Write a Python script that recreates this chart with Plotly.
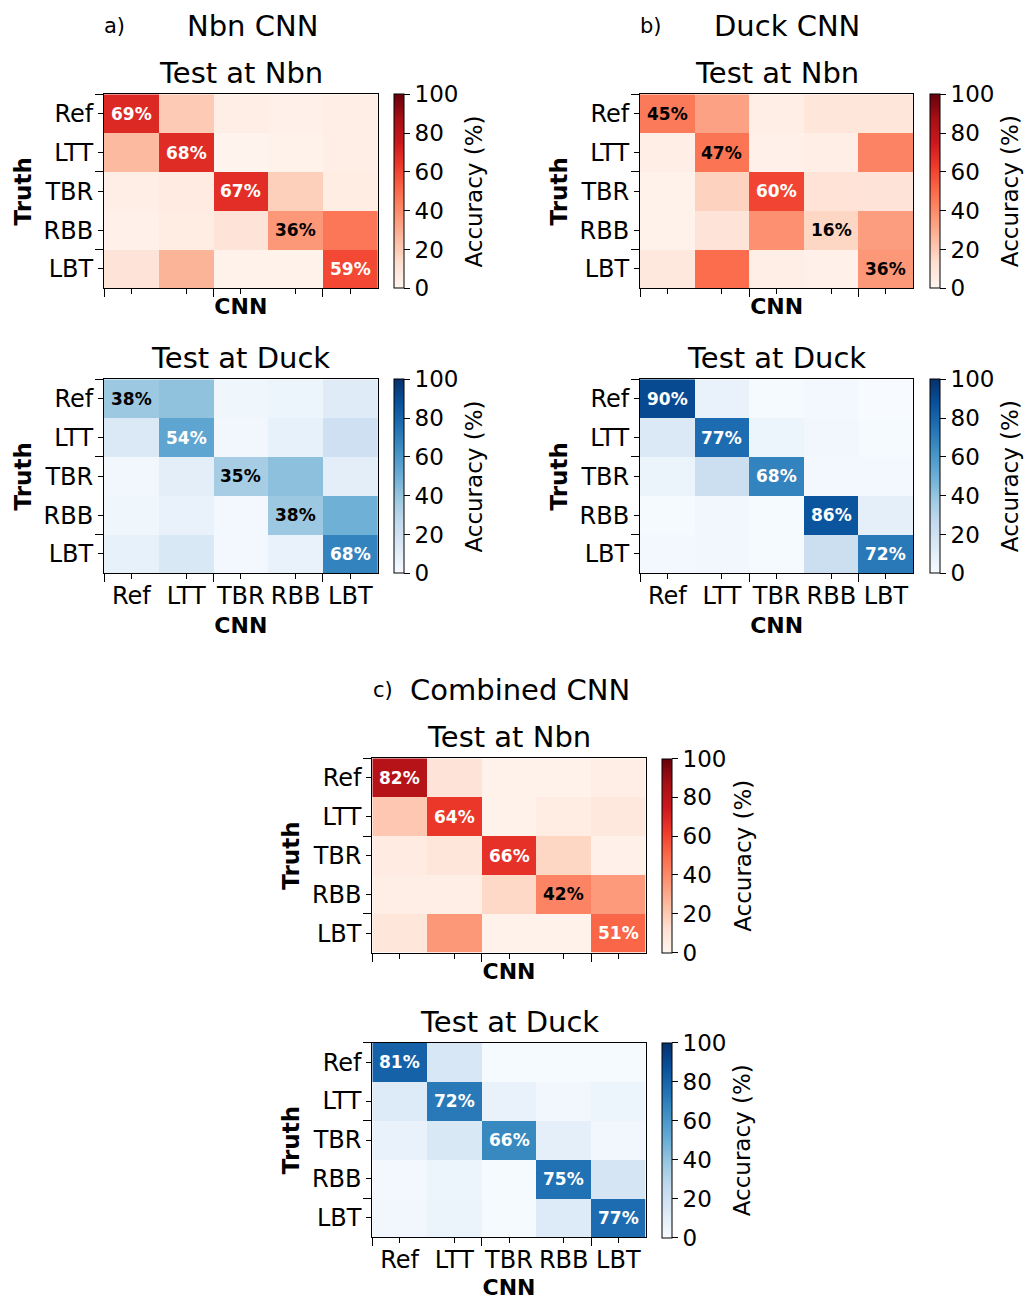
import plotly.graph_objects as go

# ---------------- data ----------------
categories = ["Ref", "LTT", "TBR", "RBB", "LBT"]

# rows = Truth, columns = CNN prediction (accuracy %)
nbn_cnn_test_nbn = [[69, 20, 4, 3, 4],
                    [25, 68, 1, 2, 4],
                    [4, 6, 67, 18, 5],
                    [3, 5, 10, 36, 46],
                    [10, 27, 2, 2, 59]]
nbn_cnn_test_duck = [[38, 41, 4, 5, 12],
                     [14, 54, 3, 8, 21],
                     [3, 10, 35, 42, 10],
                     [4, 7, 2, 38, 49],
                     [8, 15, 2, 7, 68]]
duck_cnn_test_nbn = [[45, 33, 4, 9, 9],
                     [4, 47, 3, 4, 42],
                     [2, 17, 60, 11, 10],
                     [2, 10, 38, 16, 34],
                     [8, 49, 4, 3, 36]]
duck_cnn_test_duck = [[90, 7, 1, 2, 0],
                      [14, 77, 5, 3, 1],
                      [6, 22, 68, 2, 2],
                      [1, 3, 1, 86, 9],
                      [2, 3, 1, 22, 72]]
combined_cnn_test_nbn = [[82, 10, 2, 2, 4],
                         [21, 64, 2, 5, 8],
                         [6, 9, 66, 16, 3],
                         [4, 4, 15, 42, 35],
                         [9, 36, 2, 2, 51]]
combined_cnn_test_duck = [[81, 16, 1, 1, 1],
                          [13, 72, 7, 3, 5],
                          [7, 15, 66, 9, 3],
                          [2, 5, 1, 75, 17],
                          [3, 6, 1, 13, 77]]

colorbar_ticks = [0, 20, 40, 60, 80, 100]

reds = ["#fff5f0", "#fee0d2", "#fcbba1", "#fc9272", "#fb6a4a",
        "#ef3b2c", "#cb181d", "#a50f15", "#67000d"]
blues = ["#f7fbff", "#deebf7", "#c6dbef", "#9ecae1", "#6baed6",
         "#4292c6", "#2171b5", "#08519c", "#08306b"]

# ---------------- layout helpers ----------------
W, H = 1027, 1300
FONT = "DejaVu Sans"


def fx(p):
    return p / W


def fy(p):
    return 1 - p / H


def scale(cols):
    n = len(cols) - 1
    return [[i / n, c] for i, c in enumerate(cols)]


panels = [
    # matrix, colours, x pixel span, y pixel span, show x tick labels, subtitle
    (nbn_cnn_test_nbn, reds, (104, 377.7), (94.3, 288.3), False, "Test at Nbn"),
    (nbn_cnn_test_duck, blues, (104, 377.7), (379.3, 573.3), True, "Test at Duck"),
    (duck_cnn_test_nbn, reds, (640, 913.3), (94.3, 288.3), False, "Test at Nbn"),
    (duck_cnn_test_duck, blues, (640, 913.3), (379.3, 573.3), True, "Test at Duck"),
    (combined_cnn_test_nbn, reds, (372.3, 645.7), (758.3, 952.7), False, "Test at Nbn"),
    (combined_cnn_test_duck, blues, (372.3, 645.7), (1042.7, 1237.3), True, "Test at Duck"),
]

fig = go.Figure()
layout = {}
annotations = []
idx = list(range(len(categories)))
minor_vals = [-0.5, 1.5, 3.5]

for i, (z, cols, (x0, x1), (y0, y1), show_lbl, sub) in enumerate(panels, start=1):
    sfx = "" if i == 1 else str(i)
    cb_left = x1 + 16.6
    fig.add_trace(go.Heatmap(
        z=z, x=idx, y=idx, colorscale=scale(cols), zmin=0, zmax=100,
        xaxis="x" + sfx, yaxis="y" + sfx,
        hovertemplate="Truth %{y}, CNN %{x}: %{z}%<extra></extra>",
        colorbar=dict(
            x=fx(cb_left), xanchor="left", xpad=0,
            y=(fy(y0) + fy(y1)) / 2, yanchor="middle", ypad=0,
            len=(y1 - y0) / H, lenmode="fraction", thickness=10,
            outlinecolor="black", outlinewidth=1,
            tickvals=colorbar_ticks, ticks="outside", ticklen=6,
            tickcolor="black", tickfont=dict(size=23, color="black", family=FONT),
        ),
    ))
    # colour bar label
    annotations.append(dict(
        text="Accuracy (%)", xref="paper", yref="paper", x=fx(cb_left + 80),
        y=(fy(y0) + fy(y1)) / 2, xanchor="center", yanchor="middle",
        textangle=-90, showarrow=False,
        font=dict(size=23, color="black", family=FONT)))
    layout["xaxis" + sfx] = dict(
        domain=[fx(x0), fx(x1)], anchor="y" + sfx, range=[-0.5, 4.5],
        tickmode="array", tickvals=idx, ticktext=categories,
        showticklabels=show_lbl, ticks="outside", ticklen=5, tickcolor="black",
        ticklabelstandoff=-4,
        minor=dict(tickmode="array", tickvals=minor_vals, ticks="outside",
                   ticklen=8, tickcolor="black", showgrid=False),
        showline=True, mirror=True, linecolor="black", linewidth=1,
        showgrid=False, zeroline=False,
        tickfont=dict(size=24, color="black", family=FONT),
        title=dict(text="<b>CNN</b>", font=dict(size=22, color="black", family=FONT),
                   standoff=8 if show_lbl else 5),
    )
    layout["yaxis" + sfx] = dict(
        domain=[fy(y1), fy(y0)], anchor="x" + sfx, range=[4.5, -0.5],
        tickmode="array", tickvals=idx, ticktext=categories,
        ticks="outside", ticklen=5, tickcolor="black",
        minor=dict(tickmode="array", tickvals=minor_vals, ticks="outside",
                   ticklen=8, tickcolor="black", showgrid=False),
        showline=True, mirror=True, linecolor="black", linewidth=1,
        showgrid=False, zeroline=False,
        tickfont=dict(size=24, color="black", family=FONT),
        title=dict(text="<b>Truth</b>", font=dict(size=23, color="black", family=FONT),
                   standoff=5),
    )
    # subplot title
    annotations.append(dict(
        text=sub, xref="paper", yref="paper", x=(fx(x0) + fx(x1)) / 2,
        y=fy(y0 - 21), xanchor="center", yanchor="middle", showarrow=False,
        font=dict(size=29, color="black", family=FONT)))
    # diagonal value labels
    for k in idx:
        v = z[k][k]
        annotations.append(dict(
            text=f"<b>{v}%</b>", x=k, y=k, xref="x" + sfx, yref="y" + sfx,
            showarrow=False, xanchor="center", yanchor="middle",
            font=dict(size=17, color="white" if v > 50 else "black", family=FONT)))

# panel headers
for lab, name, lx, nx, py in [("a)", "Nbn CNN", 114, 252, 26),
                              ("b)", "Duck CNN", 651, 787, 26),
                              ("c)", "Combined CNN", 383, 520, 690)]:
    annotations.append(dict(text=lab, xref="paper", yref="paper", x=fx(lx), y=fy(py),
                            xanchor="center", yanchor="middle", showarrow=False,
                            font=dict(size=21, color="black", family=FONT)))
    annotations.append(dict(text=name, xref="paper", yref="paper", x=fx(nx), y=fy(py),
                            xanchor="center", yanchor="middle", showarrow=False,
                            font=dict(size=29, color="black", family=FONT)))

fig.update_layout(
    width=W, height=H,
    margin=dict(l=0, r=0, t=0, b=0),
    paper_bgcolor="white", plot_bgcolor="white",
    font=dict(family=FONT, color="black"),
    annotations=annotations,
    **layout,
)

fig.write_html("out.html", config={"displayModeBar": False},
               post_script="document.body.style.margin='0px';")
